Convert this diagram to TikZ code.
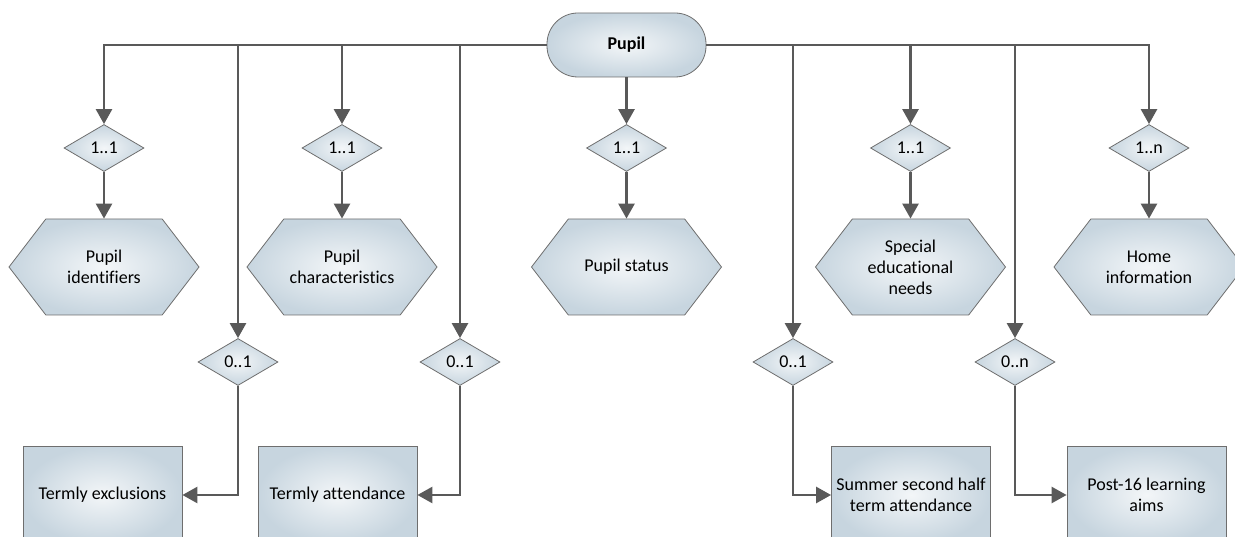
\documentclass[tikz,border=0pt]{standalone}
\usepackage{fontspec}
\setmainfont{Carlito}[Ligatures=NoCommon]
\usepackage{tikz}
\usetikzlibrary{arrows.meta,shapes.symbols,shapes.geometric,positioning}
\definecolor{ERLine}  {HTML}{595959}
\definecolor{EREdge}  {HTML}{6E6E6E}
\definecolor{ERInner} {HTML}{F3F6F8}
\definecolor{EROuter} {HTML}{C7D5DF}
\begin{document}
\begin{tikzpicture}[x=1pt,y=-1pt,
    every node/.style={font=\fontsize{18}{21}\selectfont,text=black,align=center},
    body/.style={draw=EREdge,line width=0.8pt,shade,inner color=ERInner,outer color=EROuter},
    term/.style={body,rounded corners=31pt,minimum width=159pt,minimum height=64pt,font=\fontsize{18}{21}\selectfont\bfseries},
    card/.style={body,diamond,aspect=1.7,minimum width=80pt,minimum height=47pt,inner sep=0pt},
    hexa/.style={body,signal,signal to=west and east,signal pointer angle=105,minimum width=190pt,minimum height=96pt,inner sep=2pt},
    tbox/.style={body,minimum width=159pt,minimum height=98pt},
    conn/.style={draw=ERLine,line width=2.6pt,-{Triangle[length=15pt,width=16pt]}}]
  \useasboundingbox (0,0) rectangle (1235,537);
  % Root entity
  \node[term] (pupil) at (626.5,45) {Pupil};
  % Cardinalities, upper row
  \node[card] (c1) at (104,148)  {1..1};
  \node[card] (c2) at (342,148)  {1..1};
  \node[card] (c3) at (626.5,148) {1..1};
  \node[card] (c4) at (910.5,148) {1..1};
  \node[card] (c5) at (1149,148) {1..n};
  % Cardinalities, lower row
  \node[card] (c6) at (238,362)  {0..1};
  \node[card] (c7) at (460,362)  {0..1};
  \node[card] (c8) at (793,362)  {0..1};
  \node[card] (c9) at (1015,362) {0..n};
  % Hexagon entities
  \node[hexa] (identifiers) at (104,267)  {Pupil\\identifiers};
  \node[hexa] (characteristics) at (342,267) {Pupil\\characteristics};
  \node[hexa] (status) at (626.5,267) {Pupil status};
  \node[hexa] (sen) at (910.5,267) {Special\\educational\\needs};
  \node[hexa] (home) at (1149,267) {Home\\information};
  % Termly entities
  \node[tbox] (exclusions) at (102.5,495) {Termly exclusions};
  \node[tbox] (attendance) at (337.5,495) {Termly attendance};
  \node[tbox] (summer) at (911,495) {Summer second half\\term attendance};
  \node[tbox] (post16) at (1146.5,495) {Post-16 learning\\aims};
  % Connectors from the root
  \draw[conn] (pupil.west) -| (c1.north);
  \draw[conn] (pupil.west) -| (c6.north);
  \draw[conn] (pupil.west) -| (c2.north);
  \draw[conn] (pupil.west) -| (c7.north);
  \draw[conn] (pupil.south) -- (c3.north);
  \draw[conn] (pupil.east) -| (c8.north);
  \draw[conn] (pupil.east) -| (c4.north);
  \draw[conn] (pupil.east) -| (c9.north);
  \draw[conn] (pupil.east) -| (c5.north);
  % Cardinality to entity
  \draw[conn] (c1.south) -- (identifiers.north);
  \draw[conn] (c2.south) -- (characteristics.north);
  \draw[conn] (c3.south) -- (status.north);
  \draw[conn] (c4.south) -- (sen.north);
  \draw[conn] (c5.south) -- (home.north);
  \draw[conn] (c6.south) |- (exclusions.east);
  \draw[conn] (c7.south) |- (attendance.east);
  \draw[conn] (c8.south) |- (summer.west);
  \draw[conn] (c9.south) |- (post16.west);
\end{tikzpicture}
\end{document}
